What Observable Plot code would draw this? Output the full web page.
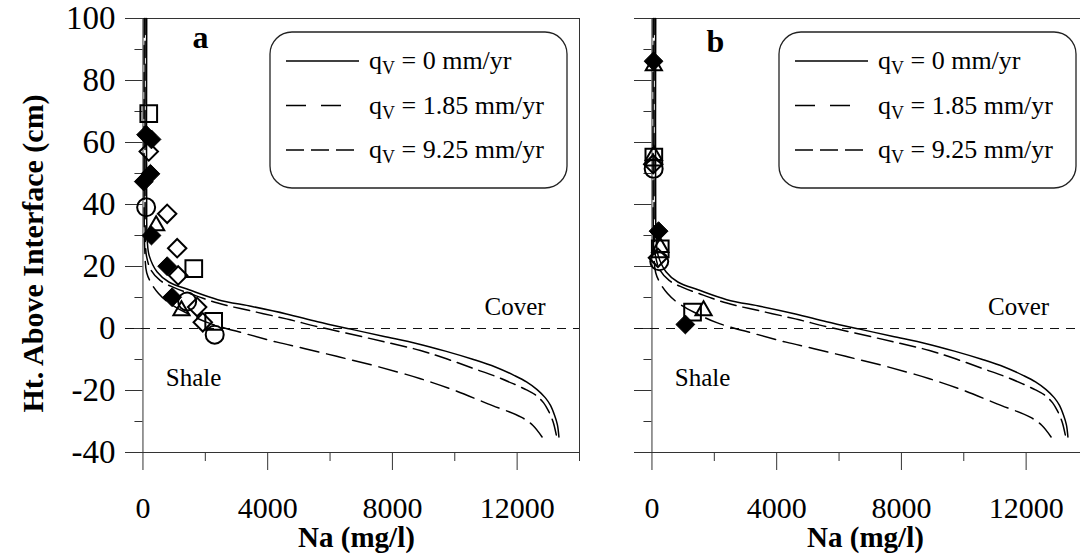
<!DOCTYPE html>
<html><head><meta charset="utf-8">
<script src="https://cdn.jsdelivr.net/npm/d3@7"></script>
<script src="https://cdn.jsdelivr.net/npm/@observablehq/plot@0.6"></script>
<style>
html,body{margin:0;padding:0;background:#fff;overflow:hidden;width:1080px;height:557px;}
#wrap{position:relative;width:1080px;height:557px;overflow:hidden;font-family:"Liberation Serif","Times New Roman",serif;}
.panel{position:absolute;top:0;width:600px;height:557px;}
.legend{position:absolute;top:31px;width:299px;height:158px;}
</style></head>
<body><div id="wrap"></div>
<script>
// ---- axis ticks ----
const xMajor = [0, 4000, 8000, 12000];
const xMinor = [2000, 6000, 10000, 14000];
const yMajor = [100, 80, 60, 40, 20, 0, -20, -40];
const yMinor = [90, 70, 50, 30, 10, -10, -30];

// ---- model curves (Na mg/l, height cm) ----
const q0Na = [120,120,140,200,450,830,1500,2400,3500,4600,5600,6660,7700,8800,9700,10600,11300,11900,12300,12640,12900,13070,13200,13290,13340];
const q0Ht = [100,35,28,23.5,18.3,15,12.4,9.3,7.1,4.7,2.2,-0.2,-2.5,-4.9,-7.3,-10,-12.4,-15.1,-17.2,-19.7,-22.3,-24.8,-28,-31,-35];
const q185Na = [70,70,80,120,250,550,1000,1500,2400,3500,4600,5600,6400,7700,8900,9800,10600,11300,11870,12300,12610,12850,13000,13150,13270];
const q185Ht = [100,35,27,23,19,15.5,13.2,11.3,8.2,5.6,3.1,0.6,-1.2,-4.2,-7.1,-10,-12.9,-15.4,-17.8,-19.8,-21.6,-24,-26.5,-30,-35];
const q925Na = [40,40,60,120,300,500,800,1400,2100,3300,4300,5200,6300,7500,8900,10000,11065,12130,12500,12800];
const q925Ht = [100,35,25,18,14,11.3,8.5,5,1.8,-1.7,-4.4,-6.5,-9.2,-12.2,-16.2,-20,-24.3,-28.6,-31.2,-35];

// ---- measured data, panel a ----
const aSquareNa = [186, 1630, 2268];
const aSquareHt = [69.3, 19.3, 2.3];
const aFilledDiamondNa = [100, 273, 240, 26, 273, 776, 936];
const aFilledDiamondHt = [62.5, 61, 49.9, 47.4, 30, 20.1, 10.1];
const aOpenDiamondNa = [186, 776, 1097, 1129, 1738, 1918];
const aOpenDiamondHt = [57.1, 37, 25.9, 17.1, 6.9, 2];
const aCircleNa = [102, 1417, 2301];
const aCircleHt = [39.1, 8.7, -2];
const aTriangleNa = [423, 1235];
const aTriangleHt = [33.2, 5.8];

// ---- measured data, panel b ----
const bSquareNa = [60, 266, 1302];
const bSquareHt = [55.3, 25.7, 5.3];
const bFilledDiamondNa = [51, 212, 1071];
const bFilledDiamondHt = [86.2, 31.4, 1.3];
const bOpenDiamondNa = [40, 192];
const bOpenDiamondHt = [53, 22.8];
const bCircleNa = [55, 234];
const bCircleHt = [51.5, 21.7];
const bTriangleNa = [60, 60, 266, 1655];
const bTriangleHt = [84.8, 55.9, 26.2, 5.8];

const legendRates = ["0", "1.85", "9.25"];
const panelLetters = ["a", "b"];

// ---- layout ----
const W = 600, H = 557, ML = 125, MR = 21, MT = 18, MB = 105;
const xDom = [-560, 14000], yDom = [-40, 100];
const kx = (W - ML - MR) / (xDom[1] - xDom[0]);
const ky = (H - MT - MB) / (yDom[1] - yDom[0]);
const AX = "#333";
const FONT = "'Liberation Serif', 'Times New Roman', serif";

const zip = (xs, ys) => xs.map((x, i) => ({na: x, ht: ys[i]}));
const curves = [
  {data: zip(q0Na, q0Ht), dash: null},
  {data: zip(q185Na, q185Ht), dash: "16,7"},
  {data: zip(q925Na, q925Ht), dash: "19,8"}
];

function panel(p) {
  const marks = [
    Plot.ruleY([yDom[1]], {stroke: AX}),
    Plot.ruleX([xDom[1]], {stroke: AX}),
    Plot.ruleY([yDom[0]], {stroke: AX}),
    Plot.ruleX([0], {y1: yDom[0], y2: yDom[1], stroke: AX}),
    Plot.ruleY(yMajor, {x1: xDom[0], x2: 0, stroke: AX}),
    Plot.ruleY(yMinor, {x1: -8 / kx, x2: 0, stroke: AX}),
    Plot.ruleX(xMajor, {y1: yDom[0], y2: yDom[0] - 18 / ky, stroke: AX}),
    Plot.ruleX(xMinor, {y1: yDom[0], y2: yDom[0] - 9 / ky, stroke: AX}),
    Plot.ruleY([0], {stroke: "#111", strokeDasharray: "9,7", strokeWidth: 1}),
    Plot.text(xMajor, {x: d => d, y: yDom[0], text: d => String(d), dy: 56, fontSize: 30, fontFamily: FONT}),
    Plot.text(["Na (mg/l)"], {frameAnchor: "bottom", text: d => d, dx: 4, dy: 85, fontSize: 29, fontWeight: "bold", fontFamily: FONT, lineAnchor: "middle"}),
    ...curves.map(c => Plot.line(c.data, {x: "na", y: "ht", stroke: "black", strokeWidth: 1.5, strokeDasharray: c.dash, curve: "catmull-rom"})),
    Plot.dot(zip(p.sqNa, p.sqHt), {x: "na", y: "ht", symbol: "square", r: 9.4, fill: "none", stroke: "black", strokeWidth: 2}),
    Plot.dot(zip(p.odNa, p.odHt), {x: "na", y: "ht", symbol: "diamond2", r: 8.3, fill: "none", stroke: "black", strokeWidth: 2}),
    Plot.dot(zip(p.ciNa, p.ciHt), {x: "na", y: "ht", symbol: "circle", r: 9, fill: "none", stroke: "black", strokeWidth: 2}),
    Plot.dot(zip(p.trNa, p.trHt), {x: "na", y: "ht", symbol: "triangle", r: 6, fill: "none", stroke: "black", strokeWidth: 2}),
    Plot.dot(zip(p.fdNa, p.fdHt), {x: "na", y: "ht", symbol: "diamond2", r: 8.5, fill: "black", stroke: "black", strokeWidth: 1}),
    Plot.text([p.letter], {frameAnchor: "top-left", text: d => d, dx: p.letterDx, dy: p.letterDy, fontSize: 32, fontWeight: "bold", fontFamily: FONT, textAnchor: "middle", lineAnchor: "middle"}),
    Plot.text(["Cover"], {frameAnchor: "top-left", text: d => d, dx: p.coverDx, dy: 288, fontSize: 25, fontFamily: FONT, textAnchor: "middle", lineAnchor: "middle"}),
    Plot.text(["Shale"], {frameAnchor: "top-left", text: d => d, dx: 68, dy: 359, fontSize: 25, fontFamily: FONT, textAnchor: "middle", lineAnchor: "middle"})
  ];
  if (p.yLabels) {
    marks.push(
      Plot.text(yMajor, {x: xDom[0], y: d => d, text: d => String(d), textAnchor: "end", dx: -10, fontSize: 33, fontFamily: FONT}),
      Plot.text(["Ht. Above Interface (cm)"], {frameAnchor: "left", text: d => d, rotate: -90, dx: -92, dy: 18, fontSize: 30, fontWeight: "bold", fontFamily: FONT, textAnchor: "middle", lineAnchor: "middle"})
    );
  }
  return Plot.plot({
    width: W, height: H, marginLeft: ML, marginRight: MR, marginTop: MT, marginBottom: MB,
    style: {background: "transparent", fontFamily: FONT, overflow: "visible"},
    x: {domain: xDom, axis: null},
    y: {domain: yDom, axis: null},
    marks
  });
}

function legend(left) {
  const dashes = [null, "20,15", "18,7"];
  const rows = [30, 74.5, 119];
  let s = `<svg width="299" height="158" xmlns="http://www.w3.org/2000/svg" style="font-family:${FONT}">`;
  s += `<rect x="1" y="1" width="297" height="156" rx="22" ry="22" fill="none" stroke="#222" stroke-width="1.3"/>`;
  legendRates.forEach((r, i) => {
    const y = rows[i];
    s += `<line x1="17" x2="${i === 1 ? 73 : 90}" y1="${y}" y2="${y}" stroke="black" stroke-width="1.5"${dashes[i] ? ` stroke-dasharray="${dashes[i]}"` : ""}/>`;
    s += `<text x="100" y="${y + 8}" font-size="26">q<tspan font-size="18" dy="5">V</tspan><tspan dy="-5"> = ${r} mm/yr</tspan></text>`;
  });
  s += `</svg>`;
  const d = document.createElement("div");
  d.className = "legend";
  d.style.left = left + "px";
  d.innerHTML = s;
  return d;
}

const wrap = document.getElementById("wrap");
const pa = document.createElement("div"); pa.className = "panel"; pa.style.left = "0px";
pa.appendChild(panel({
  letter: panelLetters[0], letterDx: 75, letterDy: 19, coverDx: 389.5, yLabels: true,
  sqNa: aSquareNa, sqHt: aSquareHt, odNa: aOpenDiamondNa, odHt: aOpenDiamondHt,
  ciNa: aCircleNa, ciHt: aCircleHt, trNa: aTriangleNa, trHt: aTriangleHt,
  fdNa: aFilledDiamondNa, fdHt: aFilledDiamondHt
}));
const pb = document.createElement("div"); pb.className = "panel"; pb.style.left = "509px";
pb.appendChild(panel({
  letter: panelLetters[1], letterDx: 81, letterDy: 23, coverDx: 384, yLabels: false,
  sqNa: bSquareNa, sqHt: bSquareHt, odNa: bOpenDiamondNa, odHt: bOpenDiamondHt,
  ciNa: bCircleNa, ciHt: bCircleHt, trNa: bTriangleNa, trHt: bTriangleHt,
  fdNa: bFilledDiamondNa, fdHt: bFilledDiamondHt
}));
wrap.appendChild(pa);
wrap.appendChild(pb);
wrap.appendChild(legend(269));
wrap.appendChild(legend(778));
</script>
</body></html>
